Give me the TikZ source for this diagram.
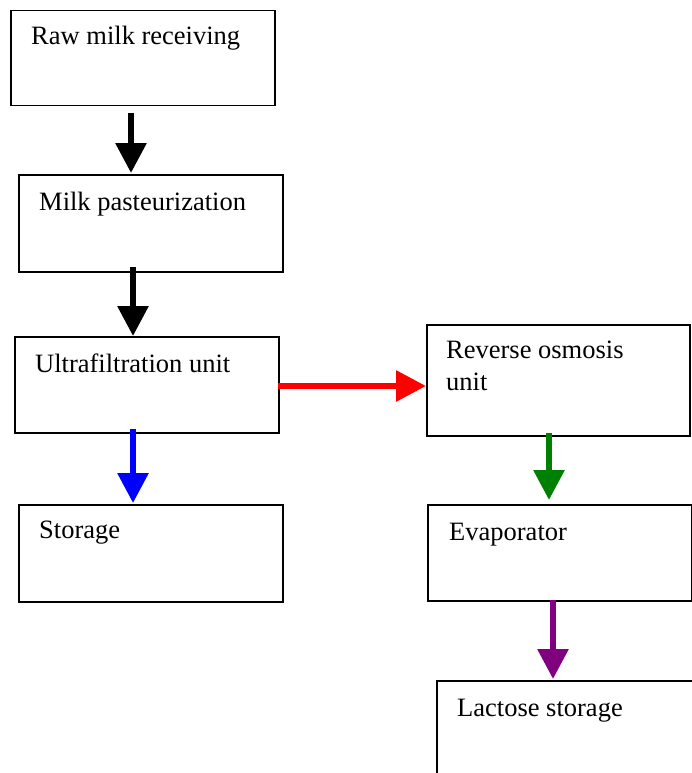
\documentclass[tikz,border=0pt]{standalone}
\usepackage{fontspec}
\setmainfont{Liberation Serif}
\usetikzlibrary{arrows.meta}
\definecolor{pgreen}{RGB}{0,128,0}
\definecolor{ppurple}{RGB}{128,0,128}
\tikzset{
  box/.style={draw=black, line width=1.5pt, rectangle, inner sep=0pt, anchor=north west},
  lbl/.style={anchor=base west, inner sep=0pt, font=\fontsize{26.5}{32}\selectfont, align=left},
  arr/.style={line width=6pt, -{Triangle[width=30pt,length=30pt]}},
}
\begin{document}
\begin{tikzpicture}[x=1pt,y=-1pt]
\useasboundingbox (0,0) rectangle (692,773);
\clip (0,0) rectangle (692,773);
% boxes
\node[box, minimum width=264pt, minimum height=95pt] (b1) at (10,10) {};
\node[box, minimum width=264pt, minimum height=97pt] (b2) at (18,174) {};
\node[box, minimum width=264pt, minimum height=96pt] (b3) at (14,336) {};
\node[box, minimum width=264pt, minimum height=97pt] (b4) at (18,504) {};
\node[box, minimum width=263pt, minimum height=111pt] (b5) at (426,324) {};
\node[box, minimum width=264pt, minimum height=96pt] (b6) at (427,504) {};
\node[box, minimum width=264pt, minimum height=100pt] (b7) at (436,680) {};
% labels
\node[lbl] (t1) at (31,45) {Raw milk receiving};
\node[lbl] (t2) at (39,210) {Milk pasteurization};
\node[lbl] (t3) at (35,372) {Ultrafiltration unit};
\node[lbl] (t4) at (39,538) {Storage};
\node[lbl] (t5) at (446,390) {Reverse osmosis\\unit};
\node[lbl] (t6) at (449,540) {Evaporator};
\node[lbl] (t7) at (457,716) {Lactose storage};
% connector end points
\coordinate (a1s) at (131,113);
\coordinate (a1e) at (131,173);
\coordinate (a2s) at (133,267);
\coordinate (a2e) at (133,336);
\coordinate (a3s) at (133,429);
\coordinate (a3e) at (133,503);
\coordinate (a4s) at (278,386);
\coordinate (a4e) at (426,386);
\coordinate (a5s) at (549,433);
\coordinate (a5e) at (549,500);
\coordinate (a6s) at (553,600);
\coordinate (a6e) at (553,679);
% connectors
\draw[arr, black] (a1s) -- (a1e);
\draw[arr, black] (a2s) -- (a2e);
\draw[arr, blue] (a3s) -- (a3e);
\draw[arr, red] (a4s) -- (a4e);
\draw[arr, pgreen] (a5s) -- (a5e);
\draw[arr, ppurple] (a6s) -- (a6e);
\end{tikzpicture}
\end{document}
